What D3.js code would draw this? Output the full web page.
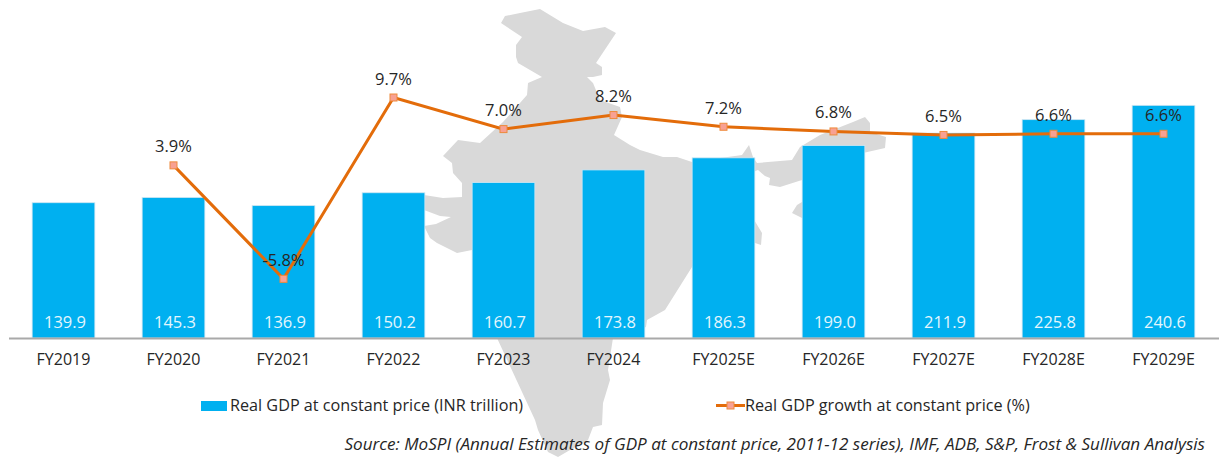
<!DOCTYPE html>
<html><head><meta charset="utf-8">
<script src="https://cdn.jsdelivr.net/npm/d3@7/dist/d3.min.js"></script>
<style>html,body{margin:0;padding:0;background:#fff}svg{display:block}text{font-family:"Open Sans",sans-serif}</style>
</head><body><svg id="c" width="1221" height="457"></svg>
<script>
const categories=["FY2019","FY2020","FY2021","FY2022","FY2023","FY2024","FY2025E","FY2026E","FY2027E","FY2028E","FY2029E"];
const gdpValues=[139.9,145.3,136.9,150.2,160.7,173.8,186.3,199.0,211.9,225.8,240.6];
const growthValues=[null,3.9,-5.8,9.7,7.0,8.2,7.2,6.8,6.5,6.6,6.6];
const seriesNames=["Real GDP at constant price (INR trillion)","Real GDP growth at constant price (%)"];
const sourceNote="Source: MoSPI (Annual Estimates of GDP at constant price, 2011-12 series), IMF, ADB, S&P, Frost & Sullivan Analysis";
// backdrop silhouette
const backdropOutline=[[501,23],[505,16],[520,13],[540,9],[563,23],[583,31],[605,27],[616,33],[596,63],[602,67],[602,75],[593,77],[587,77],[593,83],[600,100],[620,107],[622,117],[614,135],[630,145],[640,150],[663,157],[677,157],[692,162],[742,155],[749,145],[753,157],[757,163],[792,160],[800,147],[820,135],[853,122],[865,117],[870,123],[870,132],[886,137],[885,148],[863,153],[830,170],[802,180],[780,187],[769,185],[770,178],[765,176],[758,170],[745,175],[750,213],[762,233],[761,245],[755,243],[745,240],[720,225],[692,267],[665,310],[647,320],[646,327],[613,338],[608,370],[610,380],[603,403],[602,425],[593,427],[588,440],[570,450],[558,457],[548,452],[538,430],[535,420],[497,338],[472,250],[457,253],[437,243],[430,238],[424,226],[436,224],[451,217],[440,216],[424,210],[424,195],[443,198],[462,197],[462,183],[453,173],[452,163],[443,156],[458,140],[480,143],[503,122],[527,95],[528,83],[542,77],[518,63],[516,57],[516,45],[522,37]];
const islandOutline=[[802,202],[797,205],[792,213],[802,218],[815,215],[815,200]];

const svg=d3.select("#c");
const x=d3.scaleBand().domain(categories).range([8.5,1218.5]).paddingInner(0.43).paddingOuter(0.215);
const yBar=d3.scaleLinear().domain([0,250]).range([338,96.25]);
const yLine=d3.scaleLinear().domain([-10,12]).range([328,70.6]);
const cx=d=>x(d)+x.bandwidth()/2;
const ink="#262626";

const outline=d3.line().curve(d3.curveLinearClosed);
svg.append("path").attr("d",outline(backdropOutline)).attr("fill","#d9d9d9");
svg.append("path").attr("d",outline(islandOutline)).attr("fill","#d9d9d9");

svg.append("g").selectAll("rect").data(categories).join("rect")
  .attr("x",d=>x(d)).attr("width",x.bandwidth())
  .attr("y",(d,i)=>yBar(gdpValues[i])).attr("height",(d,i)=>yBar(0)-yBar(gdpValues[i]))
  .attr("fill","#00b0f0").attr("stroke","#cfe6f2").attr("stroke-width",0.8);

svg.append("g").selectAll("text").data(categories).join("text")
  .attr("x",d=>cx(d)+1.5).attr("y",328).attr("text-anchor","middle")
  .attr("font-size",16.5).attr("fill","#e4f6fd").text((d,i)=>gdpValues[i].toFixed(1));

const ax=svg.append("g").attr("transform","translate(0,338)").call(d3.axisBottom(x).tickSize(0).tickPadding(16));
ax.select(".domain").attr("stroke","#a9a9a9").attr("stroke-width",2);
ax.selectAll("text").attr("font-size",16).attr("fill",ink).style("font-family",'"Open Sans",sans-serif');

const pts=categories.map((c,i)=>({c,v:growthValues[i]})).filter(d=>d.v!==null);
const line=d3.line().x(d=>cx(d.c)).y(d=>yLine(d.v));
const orange="#e36c0a";
svg.append("path").attr("d",line(pts)).attr("fill","none").attr("stroke",orange).attr("stroke-width",3);
svg.append("g").selectAll("rect").data(pts).join("rect")
  .attr("x",d=>cx(d.c)-3.5).attr("y",d=>yLine(d.v)-3.5).attr("width",7).attr("height",7)
  .attr("fill","#f8a193").attr("stroke","#ee8a3c").attr("stroke-width",1);
svg.append("g").selectAll("text").data(pts).join("text")
  .attr("x",d=>cx(d.c)).attr("y",d=>yLine(d.v)-13).attr("text-anchor","middle")
  .attr("font-size",16.5).attr("fill",ink).text(d=>d.v.toFixed(1)+"%");

const lg=svg.append("g");
lg.append("rect").attr("x",201).attr("y",401).attr("width",26).attr("height",10).attr("fill","#00b0f0");
lg.append("text").attr("x",230).attr("y",411).attr("font-size",16.2).attr("fill",ink).text(seriesNames[0]);
lg.append("line").attr("x1",716).attr("x2",745).attr("y1",405.5).attr("y2",405.5).attr("stroke",orange).attr("stroke-width",3);
lg.append("rect").attr("x",727).attr("y",402).attr("width",7).attr("height",7).attr("fill","#f8a193").attr("stroke","#ee8a3c");
lg.append("text").attr("x",745).attr("y",411).attr("font-size",16.2).attr("fill",ink).text(seriesNames[1]);
svg.append("text").attr("x",1205).attr("y",450).attr("text-anchor","end").attr("font-size",17.1).attr("font-style","italic").attr("fill",ink).text(sourceNote);
</script></body></html>
